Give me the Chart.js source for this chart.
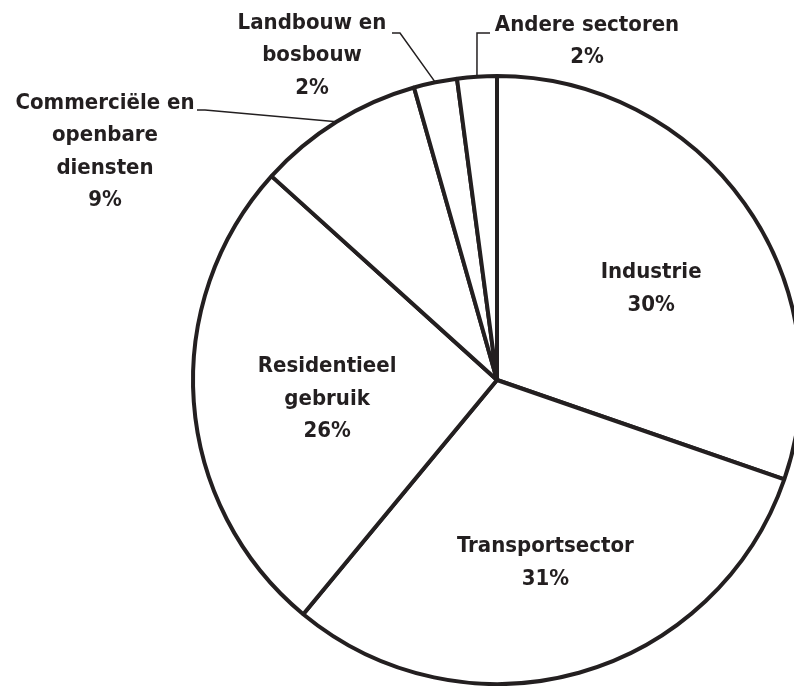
<!DOCTYPE html>
<html>
<head>
<meta charset="utf-8">
<script src="https://cdn.jsdelivr.net/npm/chart.js@4.4.1/dist/chart.umd.min.js"></script>
<style>
  html, body { margin: 0; padding: 0; background: #fff; }
  #wrap { width: 794px; height: 686px; }
</style>
</head>
<body>
<div id="wrap"><canvas id="myChart" width="794" height="686"></canvas></div>
<script>
var sectors = ["Industrie", "Transportsector", "Residentieel gebruik", "Commerciële en openbare diensten", "Landbouw en bosbouw", "Andere sectoren"];
// slice sizes; the printed labels are these rounded
var shares = [30.3, 30.7, 25.7, 8.9, 2.3, 2.1];
var labelLines = [
  ["Industrie"],
  ["Transportsector"],
  ["Residentieel", "gebruik"],
  ["Commerciële en", "openbare", "diensten"],
  ["Landbouw en", "bosbouw"],
  ["Andere sectoren"]
];

var ink = "#231f20";

// where each label goes, relative to the pie centre
var placement = [
  {inside: true, r: 0.59, dx: 8, dy: 13},
  {inside: true, r: 0.59, dx: 0, dy: 10},
  {inside: true, r: 0.59, dx: 9, dy: 6},
  {inside: false, elbow: [-292, -270], tick: -8, tx: -392, ty: -277},
  {inside: false, elbow: [-97, -347], tick: -8, tx: -185, ty: -357},
  {inside: false, elbow: [-20, -347], tick: 13, tx: 90, ty: -355}
];

var pieLabels = {
  id: "pieLabels",
  afterDatasetsDraw: function(chart) {
    var ctx = chart.ctx;
    var arcs = chart.getDatasetMeta(0).data;
    var lh = 32.5;
    ctx.save();
    ctx.font = "bold 22px 'DejaVu Sans Condensed', 'DejaVu Sans', sans-serif";
    ctx.fillStyle = ink;
    ctx.strokeStyle = ink;
    ctx.textAlign = "center";
    ctx.textBaseline = "middle";
    arcs.forEach(function(arc, i) {
      var p = arc.getProps(["x", "y", "startAngle", "endAngle", "outerRadius"], true);
      var mid = (p.startAngle + p.endAngle) / 2;
      var place = placement[i];
      var lines = labelLines[i].concat([Math.round(shares[i]) + "%"]);
      if (place.inside) {
        var d = p.outerRadius * place.r;
        var bx = p.x + Math.cos(mid) * d + place.dx;
        var by = p.y + Math.sin(mid) * d + place.dy;
        var top = by - (lines.length - 1) * lh / 2;
        lines.forEach(function(t, k) { ctx.fillText(t, bx, top + k * lh); });
      } else {
        var ex = p.x + Math.cos(mid) * p.outerRadius;
        var ey = p.y + Math.sin(mid) * p.outerRadius;
        var kx = p.x + place.elbow[0], ky = p.y + place.elbow[1];
        ctx.lineWidth = 1.5;
        ctx.beginPath();
        ctx.moveTo(ex, ey);
        ctx.lineTo(kx, ky);
        ctx.lineTo(kx + place.tick, ky);
        ctx.stroke();
        lines.forEach(function(t, k) { ctx.fillText(t, p.x + place.tx, p.y + place.ty + k * lh); });
      }
    });
    ctx.restore();
  }
};

new Chart("myChart", {
  type: "pie",
  data: {
    labels: sectors,
    datasets: [{
      data: shares,
      backgroundColor: "#ffffff",
      borderColor: ink,
      borderWidth: 4
    }]
  },
  options: {
    responsive: false,
    animation: false,
    radius: 304,
    layout: {padding: {left: 200, right: 0, top: 75, bottom: 1}},
    plugins: {
      legend: {display: false},
      tooltip: {enabled: false}
    }
  },
  plugins: [pieLabels]
});
</script>
</body>
</html>
